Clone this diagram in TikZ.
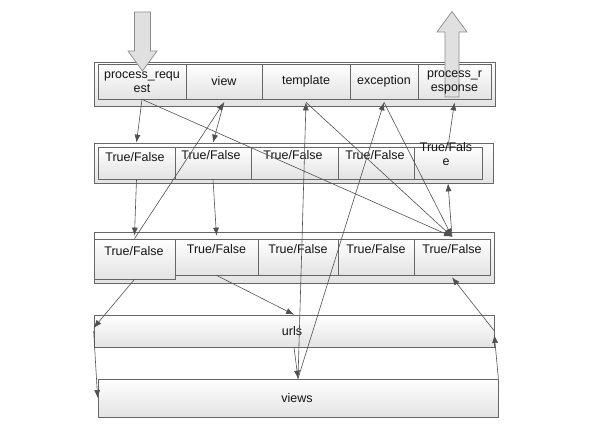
\documentclass[tikz,border=0pt]{standalone}
\usepackage{fontspec}
\setmainfont{Liberation Sans}
\usetikzlibrary{arrows.meta}
\definecolor{linegray}{HTML}{505050}
\definecolor{boxgray}{HTML}{666666}
\tikzset{
  cell/.style     = {draw=boxgray, line width=0.7pt, rectangle, inner sep=0pt,
                     top color=white, bottom color=black!11},
  txt/.style      = {font=\fontsize{12.5}{14}\selectfont, align=center,
                     text=black!92, inner sep=0pt},
  flow/.style     = {-{Latex[length=8pt,width=6pt]}, draw=linegray, line width=0.6pt},
  bigarrow/.style = {draw=black!45, line width=0.7pt,
                     left color=black!12, middle color=white, right color=black!12},
}

\begin{document}
\begin{tikzpicture}[x=1pt,y=-1pt]
\useasboundingbox (0,0) rectangle (597,444);

% frames of the three rows
\node[cell,minimum width=401pt,minimum height=44pt] (row1) at (294.5,84) {};
\node[cell,minimum width=399pt,minimum height=40pt] (row2) at (293.5,163) {};
\node[cell,minimum width=400pt,minimum height=51pt] (row3) at (294,257.5) {};

% row 1: middleware methods
\node[cell,minimum width=88pt,minimum height=35pt] (pr)    at (142,81.5)   {};
\node[cell,minimum width=76pt,minimum height=35pt] (view)  at (224,81.5)   {};
\node[cell,minimum width=88pt,minimum height=35pt] (tmpl)  at (306,81.5)   {};
\node[cell,minimum width=68pt,minimum height=35pt] (exc)   at (384,81.5)   {};
\node[cell,minimum width=73pt,minimum height=35pt] (presp) at (454.5,81.5) {};

% row 2
\node[cell,minimum width=77pt,minimum height=32pt] (a1) at (136.5,163) {};
\node[cell,minimum width=76pt,minimum height=32pt] (a2) at (213,163)   {};
\node[cell,minimum width=87pt,minimum height=32pt] (a3) at (294.5,163) {};
\node[cell,minimum width=76pt,minimum height=32pt] (a4) at (376,163)   {};
\node[cell,minimum width=68pt,minimum height=32pt] (a5) at (448,163)   {};

% row 3
\node[cell,minimum width=81pt,minimum height=40pt] (b1) at (134.5,259) {};
\node[cell,minimum width=83pt,minimum height=36pt] (b2) at (216.5,257) {};
\node[cell,minimum width=80pt,minimum height=36pt] (b3) at (298,257)   {};
\node[cell,minimum width=76pt,minimum height=36pt] (b4) at (376,257)   {};
\node[cell,minimum width=76pt,minimum height=36pt] (b5) at (452,257)   {};

% urls and views
\node[cell,minimum width=400pt,minimum height=32pt] (urls)  at (294,331) {};
\node[cell,minimum width=400pt,minimum height=38pt] (views) at (298,398) {};

% request in, response out
\draw[bigarrow] (134.5,12) -- (150.5,12) -- (150.5,51) -- (157,51) -- (142.5,71)
  -- (128,51) -- (134.5,51) -- cycle;
\draw[bigarrow] (445,97) -- (445,32) -- (437,32) -- (452,11.5) -- (467,32)
  -- (459,32) -- (459,97) -- cycle;

% texts
\node[txt] (prt)    at (142,82)   {process\_requ\\est};
\node[txt] (viewt)  at (224,81)   {view};
\node[txt] (tmplt)  at (306,81)   {template};
\node[txt] (exct)   at (384,81)   {exception};
\node[txt] (prespt) at (454.5,82) {process\_r\\esponse};

\node[txt] (a1t) at (135,157) {True/False};
\node[txt] (a2t) at (211,155) {True/False};
\node[txt] (a3t) at (293,155) {True/False};
\node[txt] (a4t) at (375,155) {True/False};
\node[txt] (a5t) at (446,154) {True/Fals\\e};

\node[txt] (b1t) at (134,251)   {True/False};
\node[txt] (b2t) at (216.5,249) {True/False};
\node[txt] (b3t) at (298,249)   {True/False};
\node[txt] (b4t) at (376,249)   {True/False};
\node[txt] (b5t) at (452,249)   {True/False};

\node[txt] (urlst)  at (292,331) {urls};
\node[txt] (viewst) at (297,398) {views};

% connectors
\draw[flow] (pr.south) -- (a1.north |- row2.north);
\draw[flow] (pr.south) -- ([yshift=2pt]b5.north);
\draw[flow] (b1.north) -- ([yshift=-3pt]view.south);
\draw[flow] ([yshift=-3pt]view.south) -- (a2.north |- row2.north);
\draw[flow] (a1.south) -- ([yshift=3pt]b1.north);
\draw[flow] (a2.south) -- ([yshift=3pt]b2.north);
\draw[flow] (b1.south) -- ([yshift=3pt]urls.west);
\draw[flow] (b2.south) -- (urls.north);
\draw[flow] (urls.west) -- (views.west);
\draw[flow] (urls.south) -- (views.north);
\draw[flow] (views.north) -- ([yshift=-3pt]tmpl.south);
\draw[flow] (views.north) -- ([yshift=-3pt]exc.south);
\draw[flow] ([yshift=-3pt]tmpl.south) -- ([yshift=2pt]b5.north);
\draw[flow] ([yshift=-3pt]exc.south) -- ([yshift=2pt]b5.north);
\draw[flow] ([yshift=2pt]b5.north) -- (a5.south |- row2.south);
\draw[flow] (a5.north) -- ([yshift=-3pt]presp.south);
\draw[flow] (views.north east) -- ([yshift=-4pt]urls.east);
\draw[flow] (urls.east) -- ([yshift=-2pt]b5.south);
\end{tikzpicture}
\end{document}
